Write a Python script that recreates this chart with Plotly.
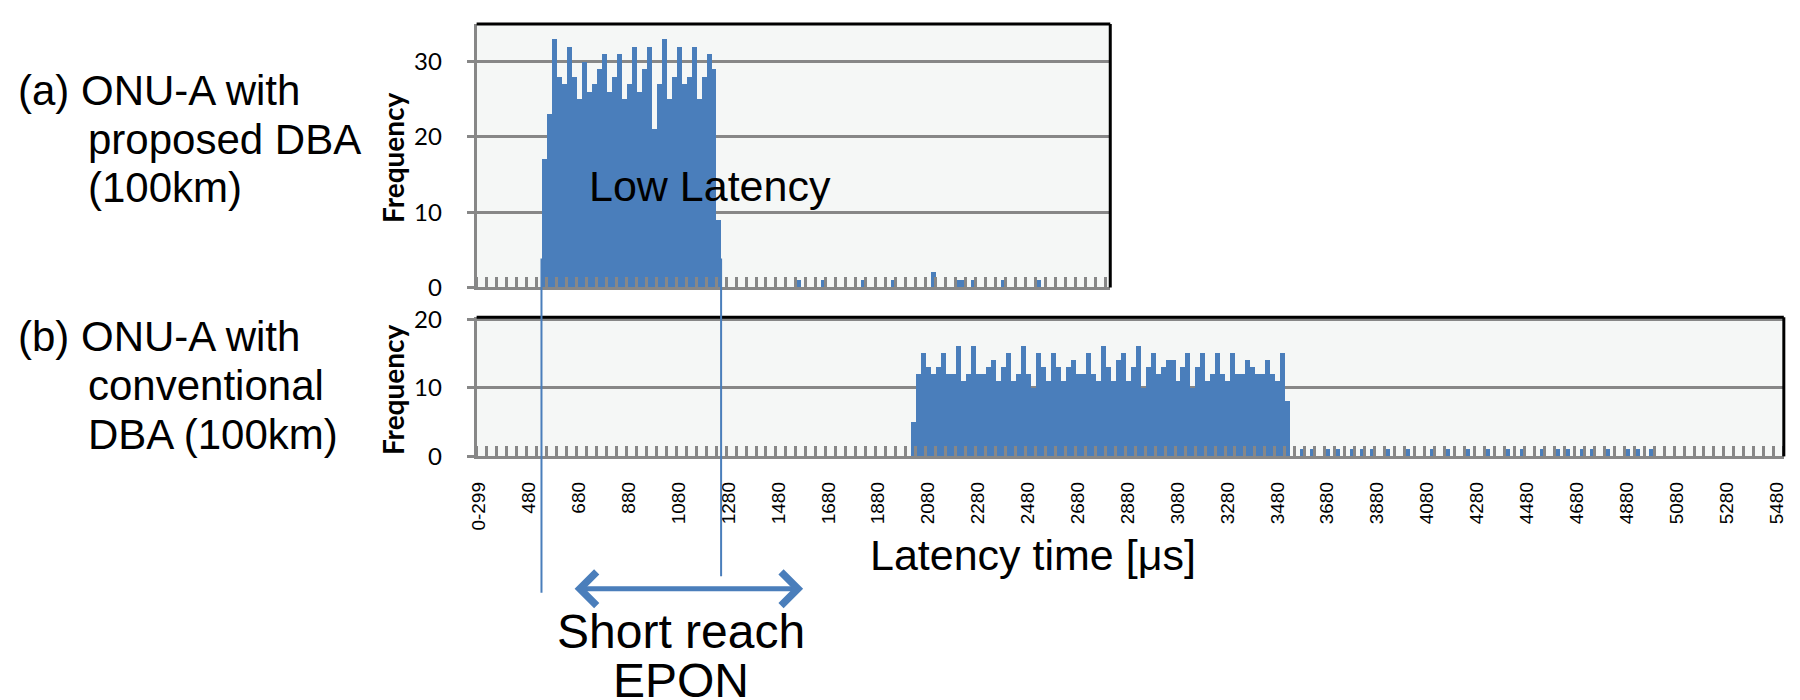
import plotly.graph_objects as go

# ---------------- data ----------------
# latency bins (20 us wide, first bin collects 0-299 us)
bin_labels = ["0-299"] + [str(280 + 20 * k) for k in range(1, 262)]
top_bin_count = 127          # panel (a) shows the first 127 bins
label_step = 10              # one tick label every 10 bins

# (a) ONU-A with proposed DBA (100km)
a_cluster_first_bin = "540"
a_cluster_counts = [17, 23, 33, 28, 27, 32, 28, 25, 30, 26, 27, 29, 31, 26, 28, 31, 25, 27,
                    32, 26, 29, 32, 21, 27, 33, 25, 28, 32, 27, 28, 32, 25, 28, 31, 29, 9]
a_sparse_counts = {"1560": 1, "1660": 1, "1820": 1, "1940": 1, "2100": 2,
                   "2200": 1, "2220": 1, "2260": 1, "2380": 1, "2520": 1}

# (b) ONU-A with conventional DBA (100km)
b_cluster_first_bin = "2020"
b_cluster_counts = [5, 12, 15, 13, 12, 13, 15, 12, 12, 16, 11, 12, 16, 12, 12, 13, 14, 11, 13, 15,
                    11, 12, 16, 12, 10, 15, 13, 11, 15, 13, 11, 13, 14, 12, 12, 15, 12, 11, 16, 13,
                    11, 14, 15, 11, 13, 16, 10, 13, 15, 12, 13, 14, 14, 11, 13, 15, 10, 13, 15, 11,
                    12, 15, 12, 11, 15, 12, 12, 14, 13, 12, 12, 14, 12, 11, 15, 8]
b_sparse_counts = {"3580": 1, "3620": 1, "3680": 1, "3720": 1, "3780": 1, "3820": 1, "3860": 1,
                   "3920": 1, "4000": 1, "4100": 1, "4160": 1, "4240": 1, "4320": 1, "4400": 1,
                   "4460": 1, "4540": 1, "4600": 1, "4640": 1, "4700": 1, "4740": 1, "4800": 1,
                   "4880": 1, "4920": 1, "4980": 1}

a_yticks = [0, 10, 20, 30]
b_yticks = [0, 10, 20]


def build(n, first, cluster, sparse):
    y = [0] * n
    s = bin_labels.index(first)
    for i, v in enumerate(cluster):
        y[s + i] = v
    for lab, v in sparse.items():
        y[bin_labels.index(lab)] = v
    return y


n_all = len(bin_labels)
a_y = build(top_bin_count, a_cluster_first_bin, a_cluster_counts, a_sparse_counts)
b_y = build(n_all, b_cluster_first_bin, b_cluster_counts, b_sparse_counts)

# ---------------- figure ----------------
W, H = 1800, 700
BLUE = "#4a7ebb"
GRAY = "#878787"
BG = "#f5f7f6"


def px(x):
    return x / W


def py(y):
    return 1 - y / H


fig = go.Figure()
fig.add_trace(go.Bar(x=list(range(top_bin_count)), y=a_y, xaxis="x", yaxis="y",
                     marker=dict(color=BLUE, line=dict(width=0)), width=1, showlegend=False))
fig.add_trace(go.Bar(x=list(range(n_all)), y=b_y, xaxis="x2", yaxis="y2",
                     marker=dict(color=BLUE, line=dict(width=0)), width=1, showlegend=False))

left = 471.5
bin_px = 5.02
top_dom_x = [px(left), px(left + top_bin_count * bin_px)]
bot_dom_x = [px(left), px(left + n_all * bin_px)]

minor_common = dict(ticks="inside", ticklen=10, tickwidth=2.5, tickcolor=GRAY, showgrid=False)
ytick_font = dict(family="Lato", size=24, color="black")

fig.update_layout(
    width=W, height=H, margin=dict(l=0, r=0, t=0, b=0),
    paper_bgcolor="white", plot_bgcolor=BG, bargap=0,
    xaxis=dict(domain=top_dom_x, anchor="y", range=[-0.5, top_bin_count - 0.5],
               showticklabels=False, ticks="", showgrid=False, zeroline=False,
               showline=True, linecolor=GRAY, linewidth=3,
               minor=dict(tickmode="array",
                          tickvals=[i - 0.5 for i in range(0, top_bin_count + 1, 2)],
                          **minor_common)),
    yaxis=dict(domain=[py(285), py(11.5)], anchor="x", range=[0, 35],
               tickvals=a_yticks, ticks="outside", ticklen=7, tickwidth=3, tickcolor=GRAY,
               tickfont=ytick_font, ticklabelstandoff=20,
               showgrid=True, gridcolor=GRAY, gridwidth=3, zeroline=False,
               showline=True, linecolor=GRAY, linewidth=3),
    xaxis2=dict(domain=bot_dom_x, anchor="y2", range=[-0.5, n_all - 0.5],
                tickmode="array", tickvals=list(range(0, n_all, label_step)),
                ticktext=[bin_labels[i] for i in range(0, n_all, label_step)],
                tickangle=-90, ticks="", ticklabelstandoff=15,
                tickfont=dict(family="Liberation Sans", size=19, color="black"),
                showgrid=False, zeroline=False,
                showline=True, linecolor=GRAY, linewidth=3,
                minor=dict(tickmode="array",
                           tickvals=[i - 0.5 for i in range(0, n_all + 1, 2)],
                           **minor_common)),
    yaxis2=dict(domain=[py(460.5), py(316)], anchor="x2", range=[0, 20.3],
                tickvals=b_yticks, ticks="outside", ticklen=7, tickwidth=3, tickcolor=GRAY,
                tickfont=ytick_font, ticklabelstandoff=20,
                showgrid=True, gridcolor=GRAY, gridwidth=3, zeroline=False,
                showline=True, linecolor=GRAY, linewidth=3),
)

# black top / right frame of each panel
for xr, yr in (("x", "y"), ("x2", "y2")):
    fig.add_shape(type="line", xref=f"{xr} domain", yref=f"{yr} domain",
                  x0=0, x1=1, y0=1, y1=1, line=dict(color="black", width=3))
    fig.add_shape(type="line", xref=f"{xr} domain", yref=f"{yr} domain",
                  x0=1, x1=1, y0=0, y1=1, line=dict(color="black", width=3))

# vertical markers at the edges of the proposed-DBA latency cluster
a_first = bin_labels.index(a_cluster_first_bin)
a_last = a_first + len(a_cluster_counts) - 1
fig.add_shape(type="line", xref="x", yref="paper", x0=a_first - 0.5, x1=a_first - 0.5,
              y0=py(602), y1=py(255), line=dict(color=BLUE, width=2))
fig.add_shape(type="line", xref="x", yref="paper", x0=a_last + 0.5, x1=a_last + 0.5,
              y0=py(585), y1=py(255), line=dict(color=BLUE, width=2))

BIG = "Liberation Sans"


def text(t, x, y, size, xanchor="left", **kw):
    fig.add_annotation(text=t, x=px(x), y=py(y), xref="paper", yref="paper",
                       xanchor=xanchor, yanchor="middle", showarrow=False,
                       font=dict(family=kw.pop("family", BIG), size=size, color="black"), **kw)


text("(a) ONU-A with", 8, 81, 42)
text("proposed DBA", 78, 131, 42)
text("(100km)", 78, 181, 42)
text("(b) ONU-A with", 8, 336, 42)
text("conventional", 78, 387, 42)
text("DBA (100km)", 78, 438, 42)
text("Low Latency", 706, 180, 43, xanchor="center")
text("Latency time [μs]", 1031, 563, 43, xanchor="center")
text("Short reach", 677, 642, 48, xanchor="center")
text("EPON", 677, 693, 48, xanchor="center")

text("<b>Frequency</b>", 388, 150, 28, xanchor="center", family="Lato", textangle=-90)
text("<b>Frequency</b>", 388, 391, 28, xanchor="center", family="Lato", textangle=-90)

# double-headed arrow under the axis
fig.add_annotation(x=px(800), y=py(598), xref="paper", yref="paper", text="",
                   showarrow=True, ax=-230, ay=0, arrowside="end+start",
                   arrowhead=4, startarrowhead=4, arrowsize=1.3, startarrowsize=1.3,
                   arrowwidth=5, arrowcolor=BLUE, standoff=0, startstandoff=0)

fig.write_html("out.html", config={"displayModeBar": False},
               post_script="document.body.style.margin='0';")
